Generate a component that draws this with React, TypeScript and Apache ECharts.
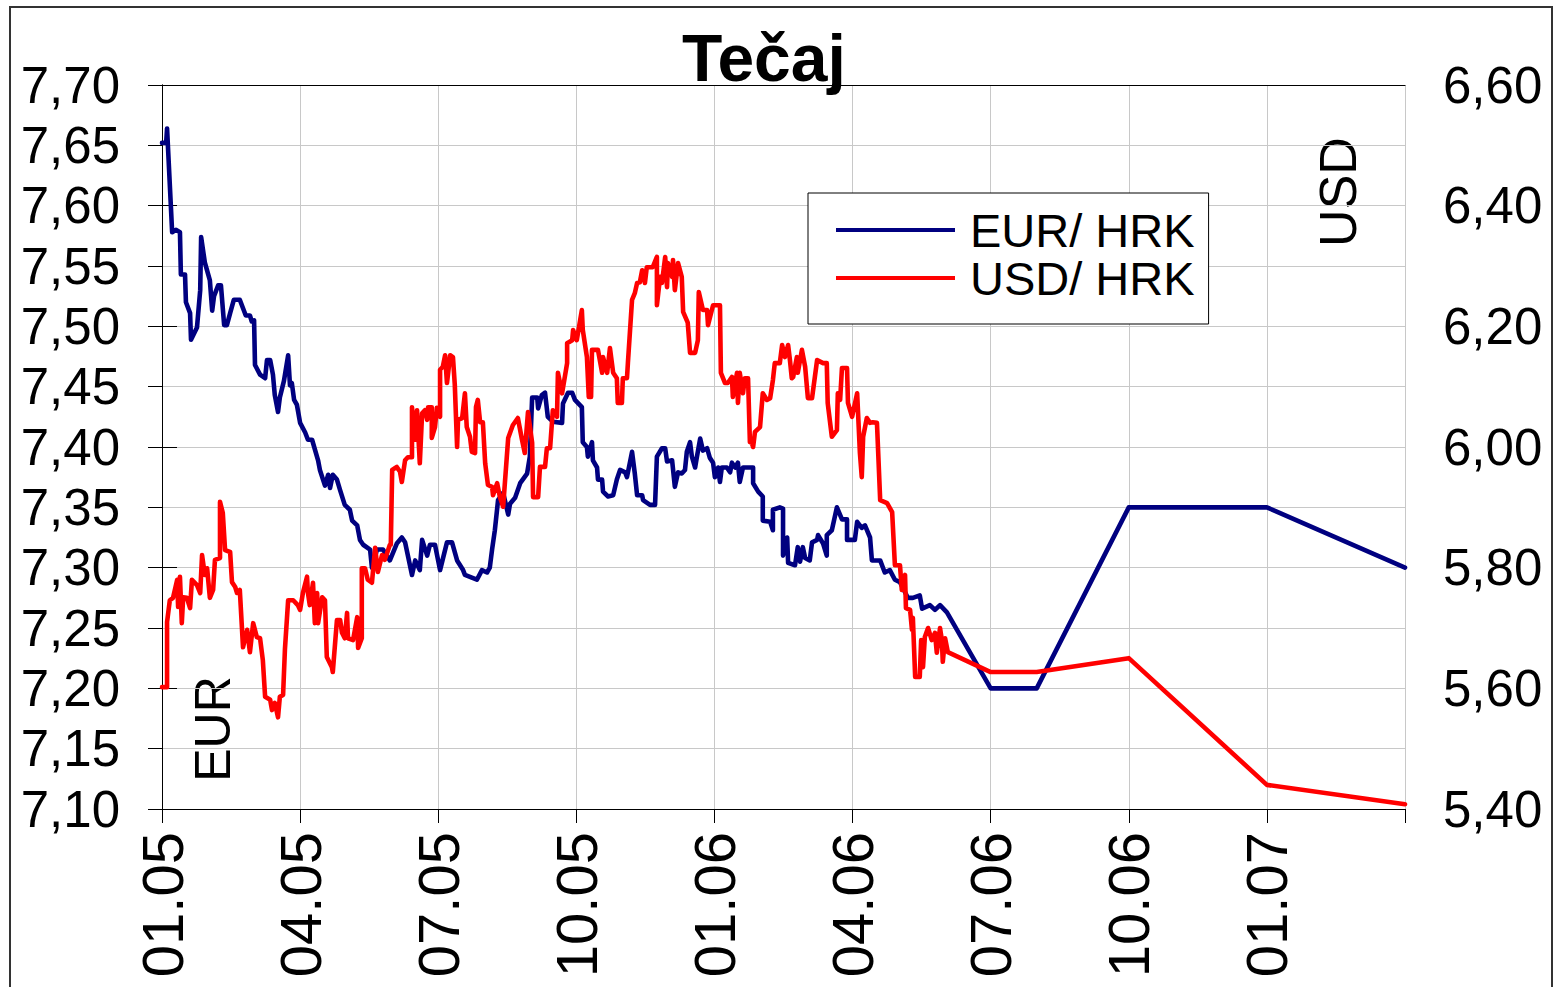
import React, { useEffect, useRef } from "react";
import * as echarts from "echarts";

// x = months since 01.2005 (0 = 01.05, 3 = 04.05, ...)
const quarterLabels = ["01.05", "04.05", "07.05", "10.05", "01.06", "04.06", "07.06", "10.06", "01.07", ""];

const eurActual: [number, number][] = [
  [0,7.652],[0.09,7.652],[0.11,7.664],[0.22,7.578],[0.30,7.580],[0.39,7.578],[0.41,7.543],[0.50,7.543],[0.52,7.520],[0.61,7.511],[0.63,7.489],[0.76,7.499],[0.83,7.530],[0.85,7.574],[0.93,7.553],[1.04,7.538],[1.09,7.513],[1.13,7.525],[1.22,7.534],[1.28,7.534],[1.35,7.501],[1.41,7.501],[1.48,7.511],[1.56,7.522],[1.69,7.522],[1.76,7.515],[1.82,7.509],[1.91,7.509],[1.95,7.504],[2.00,7.505],[2.02,7.468],[2.13,7.460],[2.24,7.457],[2.28,7.472],[2.35,7.472],[2.41,7.460],[2.45,7.443],[2.52,7.429],[2.56,7.441],[2.65,7.455],[2.74,7.476],[2.78,7.451],[2.82,7.453],[2.87,7.439],[2.93,7.435],[3.00,7.420],[3.11,7.412],[3.17,7.406],[3.26,7.406],[3.39,7.389],[3.43,7.381],[3.54,7.368],[3.61,7.377],[3.65,7.366],[3.71,7.377],[3.80,7.373],[3.87,7.364],[3.97,7.352],[4.08,7.348],[4.13,7.339],[4.24,7.335],[4.30,7.323],[4.37,7.319],[4.52,7.315],[4.56,7.300],[4.67,7.315],[4.80,7.315],[4.95,7.306],[5.10,7.320],[5.21,7.325],[5.28,7.321],[5.43,7.294],[5.50,7.306],[5.60,7.298],[5.65,7.323],[5.76,7.310],[5.82,7.319],[5.93,7.319],[6.04,7.298],[6.19,7.321],[6.30,7.321],[6.41,7.306],[6.54,7.298],[6.58,7.294],[6.84,7.290],[6.95,7.298],[7.06,7.296],[7.12,7.300],[7.17,7.315],[7.23,7.331],[7.30,7.356],[7.41,7.362],[7.52,7.344],[7.56,7.353],[7.67,7.358],[7.78,7.370],[7.93,7.378],[7.99,7.392],[8.04,7.441],[8.15,7.441],[8.17,7.432],[8.25,7.443],[8.32,7.445],[8.38,7.425],[8.49,7.421],[8.69,7.420],[8.71,7.436],[8.82,7.445],[8.91,7.445],[8.97,7.439],[9.12,7.433],[9.14,7.404],[9.23,7.400],[9.25,7.392],[9.34,7.404],[9.36,7.389],[9.45,7.383],[9.47,7.373],[9.56,7.373],[9.58,7.363],[9.69,7.359],[9.80,7.360],[9.88,7.373],[9.95,7.381],[10.06,7.379],[10.10,7.375],[10.21,7.396],[10.27,7.378],[10.32,7.360],[10.43,7.360],[10.45,7.356],[10.60,7.352],[10.71,7.352],[10.75,7.392],[10.86,7.399],[10.93,7.399],[10.97,7.388],[11.08,7.389],[11.14,7.367],[11.21,7.379],[11.29,7.378],[11.36,7.381],[11.40,7.396],[11.47,7.404],[11.51,7.392],[11.58,7.383],[11.62,7.392],[11.69,7.407],[11.75,7.397],[11.84,7.399],[11.90,7.391],[11.97,7.387],[12.01,7.375],[12.08,7.383],[12.12,7.371],[12.16,7.383],[12.27,7.383],[12.34,7.379],[12.38,7.387],[12.45,7.383],[12.51,7.387],[12.55,7.371],[12.62,7.383],[12.84,7.383],[12.84,7.370],[12.95,7.363],[13.05,7.359],[13.05,7.339],[13.21,7.338],[13.27,7.331],[13.27,7.348],[13.42,7.350],[13.49,7.349],[13.49,7.310],[13.58,7.325],[13.60,7.304],[13.75,7.302],[13.81,7.317],[13.86,7.305],[13.92,7.317],[13.97,7.308],[14.07,7.306],[14.12,7.321],[14.23,7.323],[14.25,7.327],[14.36,7.320],[14.44,7.310],[14.44,7.327],[14.55,7.331],[14.66,7.350],[14.77,7.340],[14.88,7.340],[14.88,7.323],[15.05,7.323],[15.10,7.338],[15.20,7.333],[15.27,7.335],[15.38,7.325],[15.42,7.306],[15.60,7.306],[15.70,7.296],[15.81,7.298],[15.92,7.290],[16.03,7.288],[16.20,7.275],[16.31,7.275],[16.46,7.277],[16.51,7.266],[16.68,7.269],[16.79,7.265],[16.90,7.269],[17.05,7.263],
];
const eurForecast: [number, number][] = [[18, 7.20], [19, 7.20], [21, 7.35], [24, 7.35], [27, 7.30]];

const usdActual: [number, number][] = [
  [0,5.602],[0.11,5.602],[0.11,5.710],[0.17,5.746],[0.24,5.750],[0.33,5.780],[0.35,5.735],[0.39,5.785],[0.43,5.708],[0.46,5.751],[0.54,5.750],[0.61,5.733],[0.65,5.780],[0.76,5.771],[0.83,5.758],[0.87,5.821],[0.93,5.788],[0.98,5.799],[1.04,5.750],[1.11,5.763],[1.15,5.813],[1.26,5.816],[1.26,5.909],[1.32,5.891],[1.37,5.829],[1.48,5.826],[1.52,5.776],[1.59,5.768],[1.63,5.758],[1.69,5.763],[1.76,5.668],[1.85,5.697],[1.91,5.660],[1.98,5.708],[2.06,5.685],[2.13,5.683],[2.19,5.647],[2.24,5.586],[2.35,5.581],[2.39,5.564],[2.45,5.576],[2.52,5.552],[2.56,5.586],[2.63,5.589],[2.67,5.664],[2.74,5.746],[2.85,5.746],[2.95,5.738],[3.00,5.730],[3.06,5.758],[3.15,5.785],[3.17,5.758],[3.21,5.738],[3.28,5.775],[3.32,5.708],[3.37,5.758],[3.39,5.708],[3.48,5.751],[3.54,5.746],[3.58,5.652],[3.69,5.635],[3.71,5.627],[3.80,5.713],[3.87,5.713],[3.91,5.692],[3.97,5.683],[4.02,5.725],[4.04,5.683],[4.15,5.680],[4.24,5.718],[4.26,5.667],[4.34,5.683],[4.34,5.799],[4.41,5.799],[4.47,5.780],[4.56,5.775],[4.63,5.833],[4.69,5.793],[4.78,5.821],[4.84,5.813],[4.95,5.838],[4.97,5.838],[5.00,5.962],[5.10,5.967],[5.17,5.959],[5.21,5.942],[5.28,5.978],[5.34,5.983],[5.43,5.983],[5.43,6.066],[5.50,6.012],[5.54,6.061],[5.60,5.973],[5.65,6.056],[5.71,6.061],[5.76,6.045],[5.78,6.066],[5.86,6.066],[5.86,6.015],[5.93,6.033],[5.97,6.065],[6.04,6.050],[6.04,6.128],[6.10,6.133],[6.15,6.152],[6.19,6.106],[6.26,6.152],[6.32,6.149],[6.36,6.103],[6.41,6.000],[6.43,6.045],[6.52,6.048],[6.58,6.089],[6.62,6.033],[6.69,6.017],[6.73,5.992],[6.80,5.990],[6.82,6.066],[6.86,6.078],[6.91,6.041],[6.97,6.041],[7.02,5.973],[7.08,5.937],[7.17,5.934],[7.19,5.920],[7.28,5.940],[7.34,5.917],[7.41,5.901],[7.52,6.015],[7.62,6.036],[7.73,6.048],[7.82,6.012],[7.88,5.990],[7.95,6.058],[8.04,6.007],[8.06,5.917],[8.17,5.917],[8.21,5.967],[8.32,5.967],[8.36,5.998],[8.43,5.998],[8.49,6.061],[8.58,6.050],[8.60,6.123],[8.69,6.089],[8.80,6.139],[8.80,6.172],[8.91,6.177],[8.93,6.194],[9.01,6.177],[9.12,6.227],[9.14,6.194],[9.23,6.149],[9.27,6.083],[9.32,6.083],[9.34,6.161],[9.47,6.161],[9.56,6.123],[9.58,6.149],[9.67,6.123],[9.73,6.164],[9.80,6.123],[9.88,6.114],[9.90,6.073],[9.99,6.073],[10.01,6.114],[10.10,6.114],[10.12,6.139],[10.21,6.244],[10.27,6.255],[10.32,6.272],[10.38,6.273],[10.43,6.293],[10.49,6.272],[10.53,6.298],[10.66,6.298],[10.75,6.315],[10.75,6.235],[10.82,6.282],[10.86,6.272],[10.93,6.315],[10.97,6.265],[10.99,6.305],[11.08,6.282],[11.10,6.310],[11.14,6.260],[11.21,6.305],[11.29,6.282],[11.32,6.224],[11.42,6.206],[11.47,6.156],[11.58,6.156],[11.64,6.177],[11.66,6.257],[11.75,6.227],[11.84,6.227],[11.86,6.202],[11.97,6.235],[12.12,6.235],[12.14,6.123],[12.23,6.106],[12.29,6.106],[12.38,6.116],[12.40,6.083],[12.49,6.123],[12.51,6.073],[12.55,6.123],[12.62,6.089],[12.66,6.114],[12.73,6.114],[12.77,6.008],[12.81,6.007],[12.84,6.000],[12.88,6.025],[12.99,6.033],[13.05,6.089],[13.14,6.078],[13.21,6.081],[13.27,6.111],[13.31,6.139],[13.42,6.139],[13.47,6.169],[13.53,6.149],[13.60,6.169],[13.64,6.144],[13.68,6.114],[13.71,6.116],[13.79,6.149],[13.81,6.123],[13.90,6.161],[13.97,6.133],[14.03,6.081],[14.12,6.081],[14.23,6.144],[14.36,6.139],[14.44,6.139],[14.46,6.073],[14.55,6.017],[14.66,6.028],[14.68,6.089],[14.73,6.078],[14.77,6.131],[14.88,6.131],[14.90,6.073],[14.99,6.050],[15.10,6.089],[15.16,5.990],[15.20,5.950],[15.23,6.017],[15.31,6.048],[15.38,6.040],[15.44,6.041],[15.53,6.040],[15.60,5.912],[15.75,5.907],[15.86,5.892],[15.92,5.804],[16.03,5.804],[16.07,5.763],[16.14,5.788],[16.16,5.733],[16.25,5.730],[16.29,5.697],[16.31,5.717],[16.36,5.619],[16.46,5.619],[16.49,5.680],[16.53,5.635],[16.57,5.685],[16.64,5.700],[16.72,5.680],[16.79,5.692],[16.83,5.659],[16.90,5.700],[16.94,5.680],[16.96,5.644],[17.01,5.683],[17.07,5.660],
];
const usdForecast: [number, number][] = [[18, 5.627], [19, 5.627], [21, 5.65], [24, 5.44], [27, 5.408]];

const FONT = "'Liberation Sans', Arial, sans-serif";
const comma = (v: number) => v.toFixed(2).replace(".", ",");

export default function App() {
  const ref = useRef<HTMLDivElement>(null);
  useEffect(() => {
    if (!ref.current) return;
    const chart = echarts.init(ref.current, undefined, { renderer: "svg" });
    chart.setOption({
      animation: false,
      backgroundColor: "#ffffff",
      title: {
        text: "Tečaj",
        left: 682,
        top: 25,
        padding: 0,
        textStyle: { fontSize: 66, fontWeight: "bold", fontFamily: FONT, color: "#000" },
      },
      legend: {
        orient: "vertical",
        left: 808,
        top: 193,
        padding: [13, 14, 22, 28],
        icon: "rect",
        itemWidth: 119,
        itemHeight: 4,
        itemGap: 0,
        borderColor: "#000",
        borderWidth: 1,
        backgroundColor: "#fff",
        textStyle: { fontSize: 47, lineHeight: 48, fontFamily: FONT, color: "#000", padding: [0, 0, 0, 10] },
        data: ["EUR/ HRK", "USD/ HRK"],
      },
      grid: { left: 162, right: 151, top: 85, bottom: 178, containLabel: false },
      xAxis: [
        {
          type: "value",
          min: 0,
          max: 27,
          interval: 3,
          position: "bottom",
          axisLine: { show: true, lineStyle: { color: "#000", width: 1 } },
          axisTick: { show: true, length: 14, lineStyle: { color: "#000" } },
          axisLabel: {
            rotate: 90,
            margin: 23,
            fontSize: 58,
            fontFamily: FONT,
            color: "#000",
            formatter: (v: number) => quarterLabels[Math.round(v / 3)] ?? "",
          },
          splitLine: { show: true, lineStyle: { color: "#c8c8c8", width: 1 } },
        },
        {
          type: "value",
          min: 0,
          max: 27,
          position: "top",
          axisLine: { show: true, lineStyle: { color: "#000", width: 1 } },
          axisTick: { show: false },
          axisLabel: { show: false },
          splitLine: { show: false },
        },
      ],
      yAxis: [
        {
          type: "value",
          min: 7.1,
          max: 7.7,
          interval: 0.05,
          position: "left",
          axisLine: { show: true, lineStyle: { color: "#000", width: 1 } },
          axisTick: { show: true, length: 14, lineStyle: { color: "#000" } },
          axisLabel: { margin: 42, fontSize: 51, fontFamily: FONT, color: "#000", formatter: comma },
          splitLine: { show: true, lineStyle: { color: "#c8c8c8", width: 1 } },
        },
        {
          type: "value",
          min: 5.4,
          max: 6.6,
          interval: 0.2,
          position: "right",
          axisLine: { show: true, lineStyle: { color: "#000", width: 1 } },
          axisTick: { show: true, length: 15, lineStyle: { color: "#000" } },
          axisLabel: { margin: 38, fontSize: 51, fontFamily: FONT, color: "#000", formatter: comma },
          splitLine: { show: false },
        },
      ],
      graphic: [
        {
          type: "rect",
          shape: { x: 10, y: 7, width: 1542, height: 1000 },
          style: { fill: "none", stroke: "#333", lineWidth: 2 },
          silent: true,
        },
        {
          type: "text",
          x: 213,
          y: 729,
          rotation: Math.PI / 2,
          style: { text: "EUR", fontSize: 50, fontFamily: FONT, fill: "#000", align: "center", verticalAlign: "middle" },
        },
        {
          type: "text",
          x: 1338,
          y: 192,
          rotation: Math.PI / 2,
          style: { text: "USD", fontSize: 52, fontFamily: FONT, fill: "#000", align: "center", verticalAlign: "middle" },
        },
      ],
      series: [
        {
          name: "EUR/ HRK",
          type: "line",
          xAxisIndex: 0,
          yAxisIndex: 0,
          symbol: "none",
          color: "#000080",
          lineStyle: { width: 4.6, color: "#000080", cap: "round", join: "round" },
          data: [...eurActual, ...eurForecast],
        },
        {
          name: "USD/ HRK",
          type: "line",
          xAxisIndex: 0,
          yAxisIndex: 1,
          symbol: "none",
          color: "#ff0000",
          lineStyle: { width: 4.6, color: "#ff0000", cap: "round", join: "round" },
          data: [...usdActual, ...usdForecast],
        },
      ],
    });
    return () => chart.dispose();
  }, []);
  return (
    <div
      ref={ref}
      style={{ position: "absolute", left: 0, top: 0, width: 1556, height: 987, background: "#fff" }}
    />
  );
}
